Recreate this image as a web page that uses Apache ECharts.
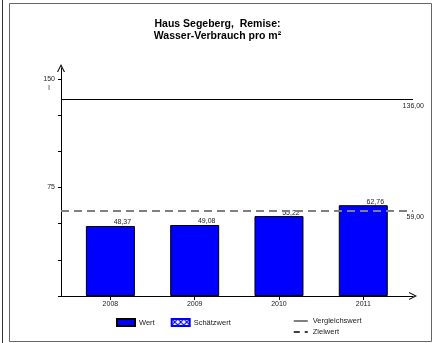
<!DOCTYPE html>
<html>
<head>
<meta charset="utf-8">
<script src="https://cdn.jsdelivr.net/npm/echarts@6/dist/echarts.min.js"></script>
<style>
  html, body { margin: 0; padding: 0; background: #fff; }
  #chart { width: 435px; height: 343px; }
</style>
</head>
<body>
<div id="chart"></div>
<script>
// Daten
var jahre = ['2008', '2009', '2010', '2011']
var wert = [48.37, 49.08, 55.22, 62.76]
var vergleichswert = 136
var zielwert = 59
var yTicks = [0, 25, 50, 75, 100, 125, 150]
var yLabels = [75, 150]
var einheit = 'l'

var font = 'Liberation Sans, Arial, sans-serif'
var fmt = function (v) {
  return v.toFixed(2).replace('.', ',')
}

// Schraffur fuer Schaetzwert
var pat = document.createElement('canvas')
pat.width = 6
pat.height = 6
var pc = pat.getContext('2d')
pc.fillStyle = '#fff'
pc.fillRect(0, 0, 6, 6)
pc.strokeStyle = '#0000ff'
pc.lineWidth = 1.2
pc.beginPath()
pc.moveTo(0, 0); pc.lineTo(6, 6)
pc.moveTo(6, 0); pc.lineTo(0, 6)
pc.stroke()

var myChart = echarts.init(document.getElementById('chart'))

var chevron = 'path://M0,10 L5,0 L10,10 L8.6,10 L5,2.8 L1.4,10 Z'

var option = {
  animation: false,
  textStyle: { fontFamily: font },
  title: {
    text: 'Haus Segeberg,  Remise:\nWasser-Verbrauch pro m²',
    left: 'center',
    top: 18,
    padding: 0,
    textStyle: {
      fontFamily: font,
      fontSize: 10.5,
      fontWeight: 'bold',
      color: '#000',
      lineHeight: 12
    }
  },
  graphic: [
    {
      type: 'rect',
      shape: { x: 9.5, y: 3.5, width: 422, height: 338 },
      style: { fill: 'none', stroke: '#666', lineWidth: 1 },
      silent: true
    },
    {
      type: 'line',
      shape: { x1: 2.5, y1: 0, x2: 2.5, y2: 343 },
      style: { stroke: '#333', lineWidth: 1 },
      silent: true
    }
  ],
  legend: [
    {
      data: [
        { name: 'Wert', icon: 'rect' },
        { name: 'Schätzwert', icon: 'rect' }
      ],
      left: 116,
      top: 318,
      padding: 0,
      itemWidth: 18,
      itemHeight: 7,
      itemGap: 16,
      textStyle: { fontSize: 7.5, color: '#222', padding: [0, 0, 0, -1] }
    },
    {
      data: [
        { name: 'Vergleichswert', itemStyle: { opacity: 0 }, lineStyle: { color: '#000', width: 1 } },
        { name: 'Zielwert', itemStyle: { opacity: 0 }, lineStyle: { color: '#000', width: 1.5, type: [6, 5] } }
      ],
      orient: 'vertical',
      left: 293,
      top: 317,
      padding: 0,
      itemWidth: 14,
      itemHeight: 8,
      itemGap: 3,
      textStyle: { fontSize: 7.5, color: '#222' }
    }
  ],
  grid: {
    left: 61,
    top: 68,
    width: 352,
    height: 228,
    containLabel: false
  },
  xAxis: {
    type: 'value',
    min: -0.586,
    max: 3.59,
    splitLine: { show: false },
    axisLine: {
      show: true,
      onZero: false,
      symbol: ['none', chevron],
      symbolSize: [8, 8],
      lineStyle: { color: '#000', width: 1 }
    },
    axisTick: {
      show: true,
      length: 4,
      customValues: [0, 1, 2, 3],
      lineStyle: { color: '#000' }
    },
    axisLabel: {
      customValues: [0, 1, 2, 3],
      formatter: function (v) {
        return jahre[Math.round(v)]
      },
      fontSize: 7,
      color: '#222',
      margin: 5
    }
  },
  yAxis: {
    type: 'value',
    min: 0,
    max: 157.6,
    splitLine: { show: false },
    axisLine: {
      show: true,
      onZero: false,
      symbol: ['none', chevron],
      symbolSize: [8, 8],
      lineStyle: { color: '#000', width: 1 }
    },
    axisTick: {
      show: true,
      length: 3,
      customValues: yTicks,
      lineStyle: { color: '#000' }
    },
    axisLabel: {
      customValues: yLabels,
      fontSize: 7,
      color: '#222',
      margin: 6,
      formatter: function (v) {
        if (v === 150) return '{p| }\n{n|' + v + '}\n{u|' + einheit + '}'
        return '{n|' + v + '}'
      },
      rich: {
        p: { fontSize: 7, lineHeight: 9 },
        n: { fontSize: 7, lineHeight: 9, color: '#222' },
        u: { fontSize: 7, lineHeight: 9, color: '#222', width: 12, align: 'center' }
      }
    }
  },
  series: [
    {
      name: 'Wert',
      type: 'bar',
      barWidth: 49,
      itemStyle: { color: '#0000ff', borderColor: '#000', borderWidth: 1 },
      label: {
        show: true,
        position: 'top',
        offset: [12, 1],
        distance: 1,
        fontSize: 7,
        color: '#222',
        formatter: function (p) {
          return fmt(p.value[1])
        }
      },
      data: wert.map(function (v, i) {
        return [i, v]
      })
    },
    {
      name: 'Schätzwert',
      type: 'bar',
      barWidth: 49,
      barGap: '-100%',
      itemStyle: { color: { image: pat, repeat: 'repeat' }, borderColor: '#0000ff', borderWidth: 1 },
      data: []
    },
    {
      name: 'Vergleichswert',
      type: 'line',
      symbol: 'none',
      lineStyle: { color: '#000', width: 1 },
      itemStyle: { color: '#000' },
      data: [],
      markLine: {
        silent: true,
        symbol: ['none', 'none'],
        lineStyle: { color: '#000', width: 1, type: 'solid' },
        label: {
          position: 'insideEndBottom',
          distance: [-11, 3],
          fontSize: 7,
          color: '#222',
          formatter: function () {
            return fmt(vergleichswert)
          }
        },
        data: [{ yAxis: vergleichswert }]
      }
    },
    {
      name: 'Zielwert',
      type: 'line',
      symbol: 'none',
      lineStyle: { color: '#000', width: 1.5, type: [6, 5] },
      itemStyle: { color: '#000' },
      data: [],
      markLine: {
        silent: true,
        symbol: ['none', 'none'],
        lineStyle: { color: '#808080', width: 2, type: [8, 5] },
        label: {
          position: 'insideEndBottom',
          distance: [-11, 3],
          fontSize: 7,
          color: '#222',
          formatter: function () {
            return fmt(zielwert)
          }
        },
        data: [{ yAxis: zielwert }]
      }
    }
  ]
}

myChart.setOption(option)
window.onresize = function () {
  myChart.resize()
}
</script>
</body>
</html>
